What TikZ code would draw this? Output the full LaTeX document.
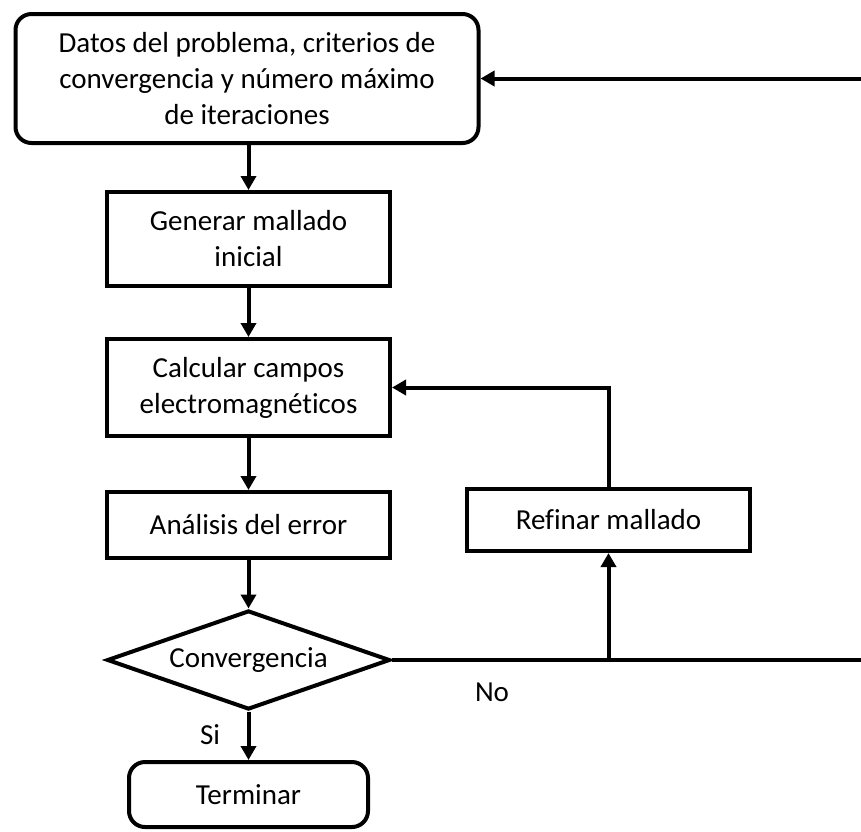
\documentclass[tikz,border=0pt]{standalone}
\usepackage{fontspec}
\setmainfont{Carlito}[Ligatures=NoCommon]
\usepackage{tikz}
\usetikzlibrary{positioning}
\usetikzlibrary{arrows, arrows.meta, shapes.geometric}

\begin{document}
\begin{tikzpicture}[x=1pt, y=-1pt,
    caja/.style={draw, rectangle, line width=4pt, align=center, inner sep=0pt, minimum width=283pt},
    redonda/.style={caja, rounded corners=16pt},
    rombo/.style={draw, diamond, aspect=2.8, line width=4pt, inner sep=0pt},
    flecha/.style={line width=4pt, -{Triangle[length=14pt,width=15pt]}},
    font=\fontsize{29}{36}\selectfont]
    \clip (0,0) rectangle (861,831);

    % cajas de la columna izquierda
    \node[redonda, minimum width=463pt, minimum height=129pt] (datos) at (247,78.5)
        {Datos del problema, criterios de\\convergencia y n\'umero m\'aximo\\de iteraciones};
    \node[caja, minimum height=94pt] (generar) at (248.5,239) {Generar mallado\\inicial};
    \node[caja, minimum height=97pt] (calcular) at (248.5,387.5) {Calcular campos\\electromagn\'eticos};
    \node[caja, minimum height=66pt] (analisis) at (248.5,525) {An\'alisis del error};
    \node[rombo, minimum width=283pt, minimum height=99pt] (conv) at (248.5,660) {Convergencia};
    \node[redonda, minimum width=239pt, minimum height=65pt] (fin) at (248.5,794.5) {Terminar};

    % refinamiento
    \node[caja, minimum height=62pt] (refinar) at (608.5,520) {Refinar mallado};

    \node (si) at (210,735) {Si};
    \node (no) at (492,692) {No};

    \draw[flecha] (generar |- datos.south) -- (generar.north);
    \draw[flecha] (generar) -- (calcular);
    \draw[flecha] (calcular) -- (analisis);
    \draw[flecha] (analisis) -- (conv);
    \draw[flecha] (conv) -- (fin);

    \coordinate (nudo) at (refinar.south |- conv.east);
    \coordinate (esqa) at (875,660);
    \coordinate (esqb) at (875,78.5);
    \draw[flecha] (conv.east) -- (esqa) -- (esqb) -- (datos.east);
    \draw[flecha] (nudo) -- (refinar.south);
    \draw[flecha] (refinar.north) |- (calcular.east);

\end{tikzpicture}
\end{document}
